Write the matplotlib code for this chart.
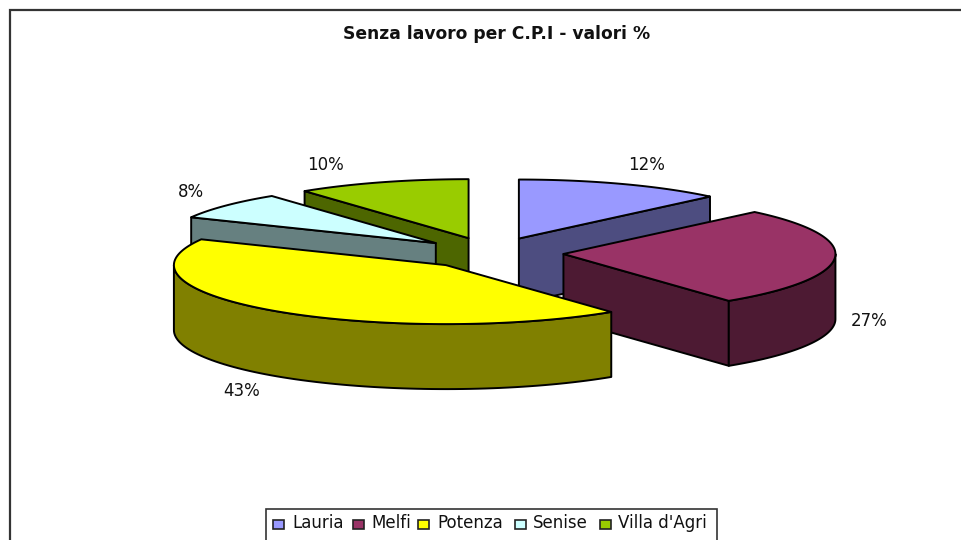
import numpy as np
import matplotlib
matplotlib.use("Agg")
import matplotlib.pyplot as plt
from matplotlib.patches import Polygon, Rectangle

categories = ["Lauria", "Melfi", "Potenza", "Senise", "Villa d'Agri"]
values = [12.4, 27.2, 42.6, 7.5, 10.3]
top_colors = ["#9999FF", "#993366", "#FFFF00", "#CCFFFF", "#99CC00"]
side_colors = ["#4D4D80", "#4D1A33", "#808000", "#668080", "#4D6600"]
label_pos = [(647, 165), (869, 321), (242, 391), (191, 192), (326, 165)]
title = "Senza lavoro per C.P.I - valori %"

CX, CY, A, B, DEPTH, EXPLODE = 491.5, 253, 272, 59, 65, 0.265
LW = 1.4
FONT = ["DejaVu Sans"]

fig = plt.figure(figsize=(9.62, 5.40), dpi=100, facecolor="white")
ax = fig.add_axes([0, 0, 1, 1])
ax.set_xlim(0, 962)
ax.set_ylim(540, 0)
ax.axis("off")

# chart frame: only its left and top sides fall inside the picture
ax.add_patch(Rectangle((10, 10), 1000, 560, fc="white", ec="#333333", lw=1.6, zorder=0))


def pt(theta, r=1.0):
    return np.array([A * r * np.sin(theta), -B * r * np.cos(theta)])


shares = np.array(values) / sum(values) * 2 * np.pi
ends = np.cumsum(shares)
starts = ends - shares
wedges = []
for s, e in zip(starts, ends):
    mid = (s + e) / 2
    wedges.append((s, e, np.array([CX, CY]) + pt(mid, EXPLODE)))


def face(pts, color, z):
    ax.add_patch(Polygon(pts, closed=True, fc=color, ec="black", lw=LW, joinstyle="round", zorder=z))


down = np.array([0, DEPTH])
paint_order = [4, 0, 3, 1, 2]
for z, i in enumerate(paint_order):
    s, e, c = wedges[i]
    base = 10 + z * 5
    # radial faces turned towards the viewer
    if np.sin(s) < 0:
        p = c + pt(s)
        face([c, p, p + down, c + down], side_colors[i], base)
    if np.sin(e) > 0:
        p = c + pt(e)
        face([c, p, p + down, c + down], side_colors[i], base)
    # outer wall (front half only)
    lo, hi = max(s, np.pi / 2), min(e, 3 * np.pi / 2)
    if hi > lo:
        th = np.linspace(lo, hi, 80)
        upper = np.array([c + pt(t) for t in th])
        face(np.vstack([upper, (upper + down)[::-1]]), side_colors[i], base + 1)
    # top surface
    th = np.linspace(s, e, 120)
    face(np.vstack([[c], [c + pt(t) for t in th]]), top_colors[i], base + 2)

for (x, y), v in zip(label_pos, values):
    ax.text(x, y, f"{round(v)}%", ha="center", va="center", fontsize=12,
            family=FONT, color="#111111", zorder=50)

ax.text(496.5, 34, title, ha="center", va="center", fontsize=12.35, fontweight="bold",
        family=FONT, color="#111111", zorder=50)

# legend
ax.add_patch(Rectangle((266, 509), 451, 40, fc="white", ec="#333333", lw=1.2, zorder=40))
swatch_x = [273, 353, 418, 515, 600]
text_x = [292, 371, 437, 533, 618]
for sx, tx, col, name in zip(swatch_x, text_x, top_colors, categories):
    ax.add_patch(Rectangle((sx, 520), 11, 9, fc=col, ec="#222222", lw=1.2, zorder=41))
    ax.text(tx, 523.5, name, ha="left", va="center", fontsize=12, family=FONT,
            color="#111111", zorder=42)

fig.savefig("out.png", dpi=100)
